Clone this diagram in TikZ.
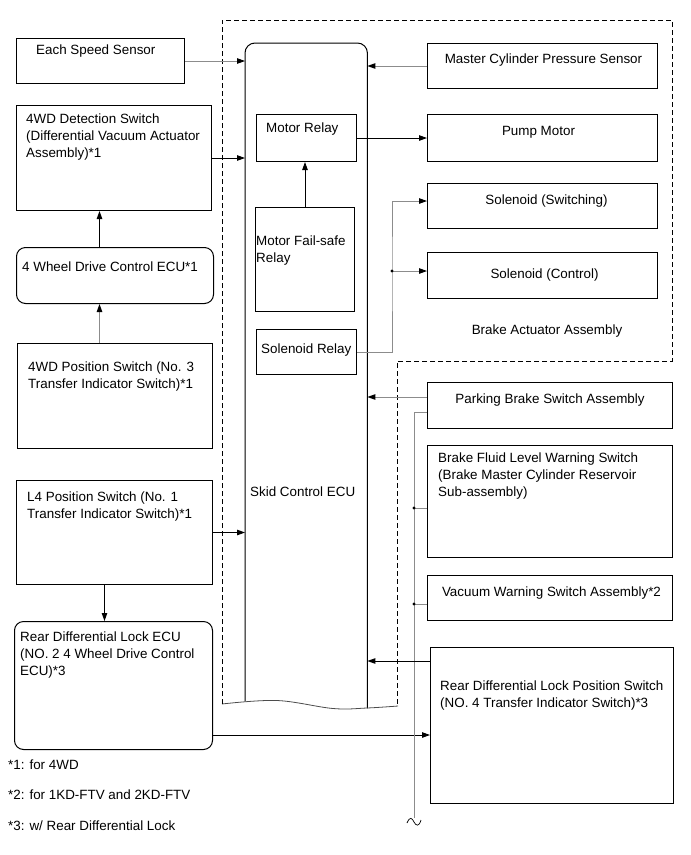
\documentclass[tikz,border=0pt]{standalone}
\usepackage{fontspec}
\setmainfont{Liberation Sans}
\usepackage{tikz}
\usetikzlibrary{arrows.meta}

\tikzset{
  blk/.style 2 args={draw, line width=1pt, inner sep=0, anchor=north west, minimum width=#1, minimum height=#2},
  rblk/.style 2 args={blk={#1}{#2}, rounded corners=9},
  txt/.style={inner sep=0, anchor=north west, align=left, font=\fontsize{13.4}{16.6}\selectfont},
  ctxt/.style={txt, anchor=north, align=center},
  wire/.style={line width=0.9pt},
  gwire/.style={line width=0.9pt, draw=black!45},
  arr/.style={-{Triangle[length=8pt,width=5.5pt,color=black]}},
  jdot/.style={fill=black}
}

\begin{document}
\begin{tikzpicture}[x=1pt, y=-1pt]
\useasboundingbox (0,0) rectangle (691,855);

% left column
\node[blk={168}{45}] (spd) at (16,38) {};
\node[txt] (spdt) at ([shift={(20,7)}]spd.north west) {Each Speed Sensor};
\node[blk={195}{105}] (det) at (16,105) {};
\node[txt] (dett) at ([shift={(10,9)}]det.north west) {4WD Detection Switch\\(Differential Vacuum Actuator\\Assembly)*1};
\node[rblk={197}{56}] (fwc) at (16,247) {};
\node[txt] (fwct) at ([shift={(6,15)}]fwc.north west) {4 Wheel Drive Control ECU*1};
\node[blk={195}{105}] (fps) at (17,343) {};
\node[txt] (fpst) at ([shift={(11,19)}]fps.north west) {4WD Position Switch (No. 3\\Transfer Indicator Switch)*1};
\node[blk={196}{104}] (l4s) at (16,480) {};
\node[txt] (l4st) at ([shift={(11,12)}]l4s.north west) {L4 Position Switch (No. 1\\Transfer Indicator Switch)*1};
\node[rblk={198}{128}] (rdl) at (14,621) {};
\node[txt] (rdlt) at ([shift={(6,11)}]rdl.north west) {Rear Differential Lock ECU\\(NO. 2 4 Wheel Drive Control\\ECU)*3};

% skid control ecu
\node[inner sep=0, anchor=north west, minimum width=122, minimum height=661] (ecu) at (245,43) {};
\draw[line width=1pt, rounded corners=10] ([shift={(0,-3)}]ecu.south west) |- (ecu.north) -| ([shift={(0,4)}]ecu.south east);
\node[txt, anchor=west] (ecut) at (250,492) {Skid Control ECU};
\node[blk={100}{47}] (mr) at (256,114) {};
\node[txt] (mrt) at ([shift={(10,9)}]mr.north west) {Motor Relay};
\node[blk={99}{104}] (mfs) at (255,207) {};
\node[txt] (mfst) at ([shift={(1,29)}]mfs.north west) {Motor Fail-safe\\Relay};
\node[blk={100}{45}] (sr) at (256,329) {};
\node[txt] (srt) at ([shift={(5,15)}]sr.north west) {Solenoid Relay};

% break line and dashed outline
\draw[line width=0.8pt, black!70] plot[smooth, tension=0.6] coordinates {(222,704) (277,700.5) (333,708.5) (367,708) (398,706)};
\draw[line width=0.9pt, dash pattern=on 5pt off 3pt] (222,704) -- (222,20) -- (672,20) -- (672,361) -- (397,361) -- (397,706);

% right column
\node[blk={230}{45}] (mcp) at (427,43) {};
\node[ctxt] (mcpt) at ([shift={(1,11)}]mcp.north) {Master Cylinder Pressure Sensor};
\node[blk={230}{47}] (pump) at (427,114) {};
\node[ctxt] (pumpt) at ([shift={(-4,12)}]pump.north) {Pump Motor};
\node[blk={230}{45}] (ssw) at (427,183) {};
\node[ctxt] (sswt) at ([shift={(4,12)}]ssw.north) {Solenoid (Switching)};
\node[blk={230}{46}] (sctl) at (427,252) {};
\node[ctxt] (sctlt) at ([shift={(2,17)}]sctl.north) {Solenoid (Control)};
\node[txt, anchor=base] (bact) at (547,334) {Brake Actuator Assembly};
\node[blk={245}{46}] (pbs) at (427,382) {};
\node[ctxt] (pbst) at ([shift={(0,12)}]pbs.north) {Parking Brake Switch Assembly};
\node[blk={245}{112}] (bfl) at (427,445) {};
\node[txt] (bflt) at ([shift={(11,8)}]bfl.north west) {Brake Fluid Level Warning Switch\\(Brake Master Cylinder Reservoir\\Sub-assembly)};
\node[blk={245}{45}] (vws) at (427,575) {};
\node[ctxt] (vwst) at ([shift={(1.5,12)}]vws.north) {Vacuum Warning Switch Assembly*2};
\node[blk={243}{156}] (rdp) at (430,647) {};
\node[txt] (rdpt) at ([shift={(10,34)}]rdp.north west) {Rear Differential Lock Position Switch\\(NO. 4 Transfer Indicator Switch)*3};

% notes
\node[txt, anchor=base west] (n1) at (8,769) {*1: for 4WD};
\node[txt, anchor=base west] (n2) at (8,799) {*2: for 1KD-FTV and 2KD-FTV};
\node[txt, anchor=base west] (n3) at (8,830) {*3: w/ Rear Differential Lock};

% connectors
\coordinate (rdlo) at ([shift={(0,114)}]rdl.north east);
\coordinate (pbso) at ([shift={(0,15)}]pbs.north west);
\coordinate (pbsb) at ([shift={(0,30)}]pbs.north west);
\coordinate (bflj) at ([shift={(0,63)}]bfl.north west);
\coordinate (vwsj) at ([shift={(0,29)}]vws.north west);
\coordinate (rdpo) at ([shift={(0,14)}]rdp.north west);
\coordinate (sswi) at ([shift={(0,18)}]ssw.north west);
\coordinate (sctli) at ([shift={(0,19)}]sctl.north west);
\coordinate (sj) at (392,271);
\coordinate (busend) at (414,818);

\draw[gwire, arr] (spd.east) -- (spd.east -| ecu.west);
\draw[wire, arr] (det.east) -- (det.east -| ecu.west);
\draw[wire, arr] ([xshift=-15.5]fwc.north) -- ([xshift=-14.5]det.south);
\draw[gwire, arr] ([xshift=-15.5]fps.north) -- ([xshift=-15.5]fwc.south);
\draw[wire, arr] (l4s.east) -- (l4s.east -| ecu.west);
\draw[wire, arr] ([xshift=-10]l4s.south) -- ([xshift=-9]rdl.north);
\draw[wire, arr] (rdlo) -- (rdlo -| rdp.west);

\draw[gwire, arr] (mcp.west) -- (mcp.west -| ecu.east);
\draw[wire, arr] (mr.east) -- (pump.west);
\draw[wire, arr] (mfs.north) -- (mfs.north |- mr.south);
\draw[gwire, arr] (sr.east) -| (sj) |- (sswi);
\draw[gwire, arr] (sj) -- (sctli);
\fill[jdot] (sj) circle (1.6);

\draw[gwire, arr] (pbso) -- (pbso -| ecu.east);
\draw[gwire] (pbsb) -| (busend);
\draw[gwire] (bflj) -- (bflj -| busend);
\draw[gwire] (vwsj) -- (vwsj -| busend);
\fill[jdot] (bflj -| busend) circle (1.6);
\fill[jdot] (vwsj -| busend) circle (1.6);
\draw[line width=0.7pt] (407,823) .. controls (410,816) and (412,818) .. (414,822) .. controls (416,826) and (419,827) .. (421,820);
\draw[wire, arr] (rdpo) -- (rdpo -| ecu.east);
\end{tikzpicture}
\end{document}
